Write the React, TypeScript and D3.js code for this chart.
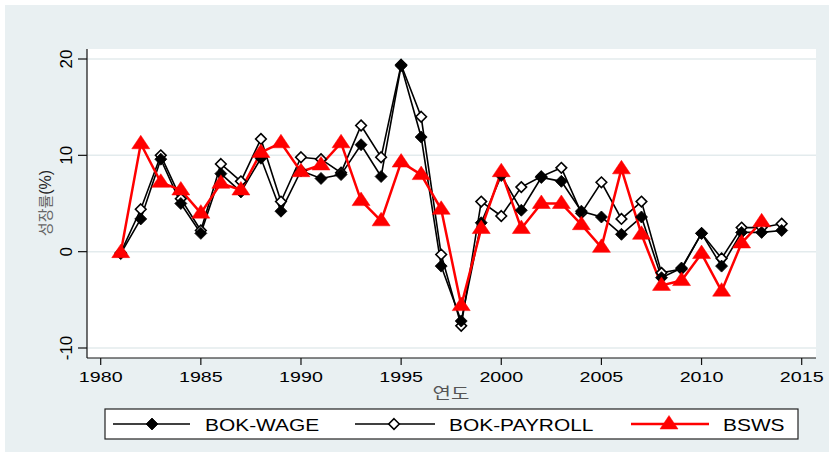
import React from "react";
import * as d3 from "d3";

const years: number[] = [
  1981, 1982, 1983, 1984, 1985, 1986, 1987, 1988, 1989, 1990,
  1991, 1992, 1993, 1994, 1995, 1996, 1997, 1998, 1999, 2000,
  2001, 2002, 2003, 2004, 2005, 2006, 2007, 2008, 2009, 2010,
  2011, 2012, 2013, 2014,
];

const bokWage: number[] = [
  -0.2, 3.4, 9.6, 5.0, 1.9, 8.1, 6.2, 9.7, 4.2, 8.4,
  7.6, 8.0, 11.1, 7.8, 19.3, 11.9, -1.5, -7.2, 3.0, 7.9,
  4.3, 7.7, 7.3, 4.2, 3.6, 1.8, 3.6, -2.7, -1.7, 1.9,
  -1.5, 2.0, 2.0, 2.2,
];

const bokPayroll: number[] = [
  -0.1, 4.4, 10.0, 5.5, 2.2, 9.1, 7.3, 11.7, 5.2, 9.8,
  9.6, 8.2, 13.1, 9.8, 19.4, 14.0, -0.3, -7.7, 5.2, 3.7,
  6.7, 7.8, 8.7, 4.0, 7.2, 3.4, 5.2, -2.2, -1.8, 1.9,
  -0.7, 2.5, 2.5, 2.9,
];

const bsws: number[] = [
  -0.1, 11.2, 7.2, 6.4, 4.0, 7.1, 6.4, 10.3, 11.3, 8.3,
  9.0, 11.3, 5.3, 3.2, 9.3, 8.0, 4.4, -5.6, 2.4, 8.3,
  2.4, 5.0, 5.0, 2.8, 0.45, 8.6, 1.8, -3.5, -3.0, -0.2,
  -4.1, 0.9, 3.1,
];

const xTicks: number[] = [1980, 1985, 1990, 1995, 2000, 2005, 2010, 2015];
const yTicks: number[] = [-10, 0, 10, 20];
const legendLabels: string[] = ["BOK-WAGE", "BOK-PAYROLL", "BSWS"];
const xTitle = "연도";
const yTitle = "성장률";

const W = 829;
const H = 456;
const plot = { left: 87, right: 816, top: 49, bottom: 358 };

const x = d3.scaleLinear().domain([1980, 2015]).range([100.7, 801.7]);
const y = d3.scaleLinear().domain([-10, 20]).range([348, 59]);

const BG = "#e9f0f2";
const GRID = "#e3ebed";
const RED = "#ff0000";
const FONT = "'Liberation Sans', Arial, sans-serif";
const KFONT = "'Noto Sans CJK KR', 'Noto Sans', sans-serif";

type Pt = { yr: number; v: number };
const toPts = (vals: number[]): Pt[] => vals.map((v, i) => ({ yr: years[i], v }));

const line = d3
  .line<Pt>()
  .x((d) => x(d.yr))
  .y((d) => y(d.v));

const diamondPath = (cx: number, cy: number, r: number) =>
  `M${cx},${cy - r}L${cx + r},${cy}L${cx},${cy + r}L${cx - r},${cy}Z`;
const trianglePath = (cx: number, cy: number) =>
  `M${cx},${cy - 8.5}L${cx + 9},${cy + 5}L${cx - 9},${cy + 5}Z`;

const FilledDiamond = ({ cx, cy }: { cx: number; cy: number }) => (
  <path d={diamondPath(cx, cy, 6)} fill="#000" stroke="#000" strokeWidth={0.8} />
);
const OpenDiamond = ({ cx, cy }: { cx: number; cy: number }) => (
  <path d={diamondPath(cx, cy, 5.3)} fill="#fff" stroke="#000" strokeWidth={1.6} />
);
const Triangle = ({ cx, cy }: { cx: number; cy: number }) => (
  <path d={trianglePath(cx, cy)} fill={RED} stroke={RED} strokeWidth={0.5} />
);

export default function App() {
  const wagePts = toPts(bokWage);
  const payPts = toPts(bokPayroll);
  const bswsPts = toPts(bsws);

  const legendY = 424;
  const legendItems = [
    { label: legendLabels[0], x1: 113, x2: 190, mx: 152, tx: 205, kind: "filled" },
    { label: legendLabels[1], x1: 355, x2: 435, mx: 394, tx: 449, kind: "open" },
    { label: legendLabels[2], x1: 631, x2: 709, mx: 669, tx: 723, kind: "tri" },
  ];

  return (
    <svg
      width={W}
      height={H}
      viewBox={`0 0 ${W} ${H}`}
      style={{ position: "absolute", left: 0, top: 0, display: "block" }}
    >
      <rect x={0} y={0} width={W} height={H} fill="#fff" />
      <rect x={5} y={5} width={W - 5} height={H - 9} fill={BG} />
      <rect
        x={plot.left}
        y={plot.top}
        width={plot.right - plot.left}
        height={plot.bottom - plot.top}
        fill="#fff"
      />

      {/* grid */}
      {yTicks.map((t) => (
        <line
          key={`g${t}`}
          x1={plot.left}
          x2={plot.right}
          y1={y(t)}
          y2={y(t)}
          stroke={GRID}
          strokeWidth={1.5}
        />
      ))}

      {/* axes */}
      <line x1={plot.left} x2={plot.left} y1={plot.top} y2={plot.bottom} stroke="#111" strokeWidth={1.2} />
      <line x1={plot.left} x2={plot.right} y1={plot.bottom} y2={plot.bottom} stroke="#111" strokeWidth={1.2} />

      {yTicks.map((t) => (
        <g key={`yt${t}`}>
          <line x1={78} x2={plot.left} y1={y(t)} y2={y(t)} stroke="#111" strokeWidth={1.2} />
          <text
            transform={`translate(72,${y(t)}) rotate(-90)`}
            textAnchor="middle"
            fontFamily={FONT}
            fontSize={17}
            fill="#000"
          >
            {String(t)}
          </text>
        </g>
      ))}

      {xTicks.map((t) => (
        <g key={`xt${t}`}>
          <line x1={x(t)} x2={x(t)} y1={plot.bottom} y2={365} stroke="#111" strokeWidth={1.2} />
          <text
            transform={`translate(${x(t)},381.5) scale(1.27,1)`}
            textAnchor="middle"
            fontFamily={FONT}
            fontSize={15.5}
            fill="#000"
          >
            {String(t)}
          </text>
        </g>
      ))}

      {/* axis titles */}
      <text
        transform="translate(451,399) scale(1.25,1)"
        textAnchor="middle"
        fontFamily={KFONT}
        fontSize={16}
        fill="#555"
      >
        {xTitle}
      </text>
      <text
        transform="translate(51,203) rotate(-90)"
        textAnchor="middle"
        fontFamily={KFONT}
        fontSize={15}
        fill="#666"
      >
        {yTitle}
        <tspan fontFamily={FONT} fontSize={16} fill="#222">(%)</tspan>
      </text>

      {/* series lines */}
      <path d={line(payPts) || ""} fill="none" stroke="#000" strokeWidth={1.6} />
      <path d={line(wagePts) || ""} fill="none" stroke="#000" strokeWidth={1.6} />
      <path d={line(bswsPts) || ""} fill="none" stroke={RED} strokeWidth={2.5} strokeLinejoin="miter" />

      {/* markers */}
      {payPts.map((d) => (
        <OpenDiamond key={`p${d.yr}`} cx={x(d.yr)} cy={y(d.v)} />
      ))}
      {wagePts.map((d) => (
        <FilledDiamond key={`w${d.yr}`} cx={x(d.yr)} cy={y(d.v)} />
      ))}
      {bswsPts.map((d) => (
        <Triangle key={`b${d.yr}`} cx={x(d.yr)} cy={y(d.v)} />
      ))}

      {/* legend */}
      <rect x={105} y={409} width={693} height={30} fill="#fff" stroke="#222" strokeWidth={1.2} />
      {legendItems.map((it) => (
        <g key={it.label}>
          <line
            x1={it.x1}
            x2={it.x2}
            y1={legendY}
            y2={legendY}
            stroke={it.kind === "tri" ? RED : "#000"}
            strokeWidth={it.kind === "tri" ? 2.5 : 1.5}
          />
          {it.kind === "filled" && <FilledDiamond cx={it.mx} cy={legendY} />}
          {it.kind === "open" && <OpenDiamond cx={it.mx} cy={legendY} />}
          {it.kind === "tri" && <Triangle cx={it.mx} cy={legendY} />}
          <text
            transform={`translate(${it.tx},430.5) scale(1.23,1)`}
            fontFamily={FONT}
            fontSize={17}
            fill="#000"
          >
            {it.label}
          </text>
        </g>
      ))}
    </svg>
  );
}
